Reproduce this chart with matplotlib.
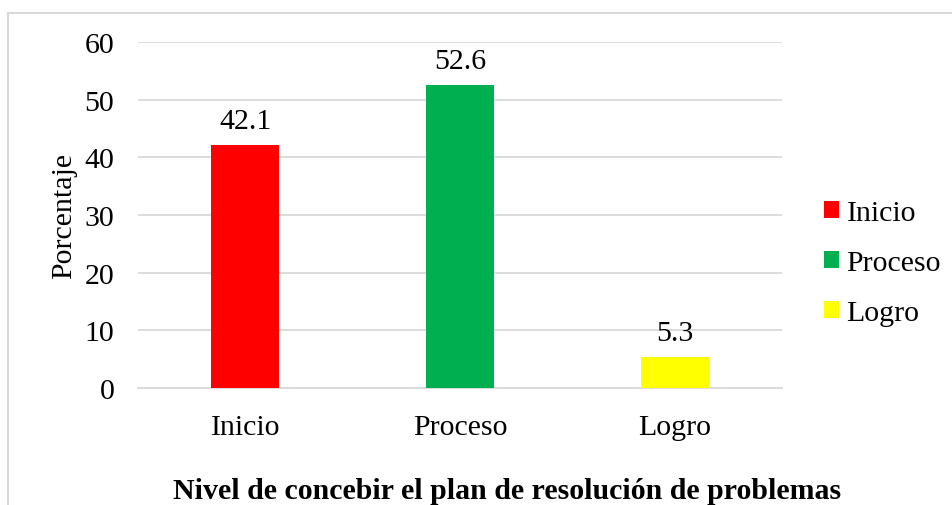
import numpy as np
import matplotlib.pyplot as plt
from matplotlib.patches import Rectangle

categorias = ["Inicio", "Proceso", "Logro"]
porcentajes = [42.1, 52.6, 5.3]
colores = ["#FF0000", "#00B050", "#FFFF00"]
yticks = [0, 10, 20, 30, 40, 50, 60]

plt.rcParams['font.family'] = ['Liberation Serif', 'DejaVu Serif']
fs = 21.5

fig = plt.figure(figsize=(9.52, 5.06), dpi=100)
ax = fig.add_axes([138 / 952, 1 - 389 / 506, 644 / 952, 346 / 506])

x = np.arange(len(categorias))
barras = ax.bar(x, porcentajes, width=0.316, color=colores, label=categorias, zorder=3)
for xi, v in zip(x, porcentajes):
   ax.text(xi, v + 2.95, f"{v:.1f}", ha='center', va='baseline', fontsize=fs)

ax.set_xlim(-0.5, 2.5)
ax.set_ylim(0, 60)
ax.set_yticks(yticks)
ax.set_xticks(x)
ax.set_xticklabels(categorias)
ax.tick_params(axis='both', length=0, labelsize=fs)
ax.tick_params(axis='x', pad=19)
ax.tick_params(axis='y', pad=17)
ax.grid(axis='y', color='#D9D9D9', linewidth=1.3, zorder=0)
for s in ['top', 'right', 'left']:
   ax.spines[s].set_visible(False)
ax.spines['bottom'].set_color('#D9D9D9')
ax.spines['bottom'].set_linewidth(1.3)

ax.set_ylabel("Porcentaje", fontsize=fs, labelpad=5)
fig.text(507 / 952, 1 - 492 / 506, "Nivel de concebir el plan de resolución de problemas",
         ha='center', va='center', fontsize=fs, fontweight='bold')

leg = ax.legend(barras, categorias, loc='center left', bbox_to_anchor=(1.033, 0.361),
                frameon=False, fontsize=fs, handlelength=0.5, handleheight=0.5,
                handletextpad=0.25, labelspacing=0.8, borderpad=0.2)

# marco del gráfico
fig.patches.append(Rectangle((8 / 952, -0.1), 1.1, 1 - 14 / 506 + 0.1,
                             transform=fig.transFigure, fill=False,
                             edgecolor='#D9D9D9', linewidth=1.5))

fig.savefig("out.png", dpi=100)
